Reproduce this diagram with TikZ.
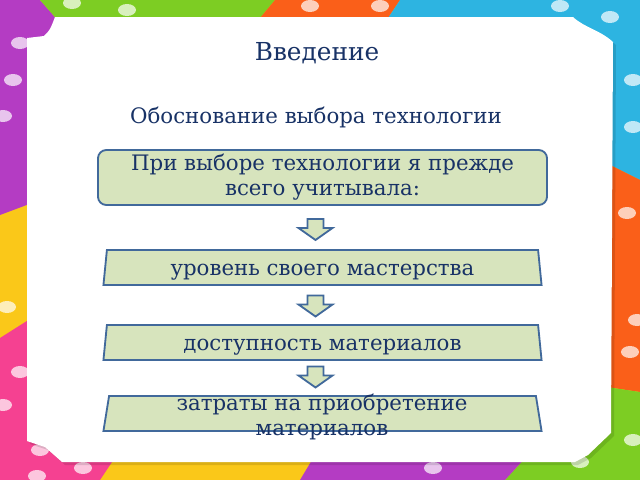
\documentclass[tikz,border=0pt]{standalone}
\usepackage{fontspec}
\setmainfont{DejaVu Serif}
\usetikzlibrary{positioning, shapes.geometric, calc}

\definecolor{navy}{RGB}{24,50,102}
\definecolor{boxfill}{RGB}{215,228,189}
\definecolor{boxline}{RGB}{65,105,155}
\definecolor{rpurple}{RGB}{180,60,195}
\definecolor{rgreen}{RGB}{125,205,35}
\definecolor{rorange}{RGB}{250,95,25}
\definecolor{rblue}{RGB}{45,180,225}
\definecolor{ryellow}{RGB}{250,200,25}
\definecolor{rpink}{RGB}{245,65,145}

\tikzset{
  downarr/.pic={
    \draw[blockarr] (-8,-10.5) -- (8,-10.5) -- (8,-1.5) -- (17,-1.5) -- (0,10.5)
      -- (-17,-1.5) -- (-8,-1.5) -- cycle;
  }
}

\begin{document}
\begin{tikzpicture}[x=0.025cm, y=-0.025cm,
    txt/.style={text=navy, font=\fontsize{15.15}{17.8}\selectfont, inner sep=0pt},
    bigtxt/.style={text=navy, font=\fontsize{17.6}{20}\selectfont, inner sep=0pt},
    roundbox/.style={draw=boxline, line width=1.3pt, fill=boxfill, rounded corners=6pt,
      minimum width=11.225cm, minimum height=1.375cm, align=center},
    trap/.style={trapezium, trapezium angle=77, trapezium stretches body,
      draw=boxline, line width=1.3pt, fill=boxfill, minimum width=10.95cm,
      minimum height=0.875cm, text height=0.375cm, text depth=0pt},
    blockarr/.style={draw=boxline, line width=1.3pt, fill=boxfill, line join=miter},
    dot/.style={fill=white, opacity=0.7}]
  \useasboundingbox (0,0) rectangle (640,480);

  % Ribbons behind the sheet
  \fill[ryellow] (0,0) rectangle (640,480);
  \fill[rpurple] (0,0) -- (40,0) -- (75,40) -- (40,200) -- (0,215) -- cycle;
  \fill[rgreen] (40,0) -- (275,0) -- (250,30) -- (75,40) -- cycle;
  \fill[rorange] (275,0) -- (400,0) -- (380,30) -- (250,30) -- cycle;
  \fill[rblue] (400,0) -- (640,0) -- (640,180) -- (580,150) -- (560,60) -- (380,30) -- cycle;
  \fill[rorange] (640,180) -- (640,392) -- (560,380) -- (580,150) -- cycle;
  \fill[rgreen] (640,392) -- (640,480) -- (505,480) -- (560,420) -- (560,380) -- cycle;
  \fill[rpurple] (505,480) -- (300,480) -- (330,430) -- (560,420) -- cycle;
  \fill[rpink] (0,338) -- (60,300) -- (140,420) -- (100,480) -- (0,480) -- cycle;
  \foreach \px/\py in {72/3, 127/10, 310/6, 380/6, 560/6, 610/17, 633/80, 633/127,
      627/213, 637/320, 630/352, 633/440, 580/462, 433/468, 20/43, 13/80, 3/116,
      7/307, 20/372, 3/405, 40/450, 83/468, 37/476}
    \fill[dot] (\px,\py) ellipse [x radius=9, y radius=6];

  % Sheet with shadow
  \fill[black, opacity=0.12] (30,41) -- (47,39) .. controls (53,33) .. (58,20) -- (576,20)
    .. controls (588,31) and (603,33) .. (616,45) -- (614,436) -- (591,458) -- (578,465)
    -- (65,465) -- (48,450) -- (30,444) -- cycle;
  \fill[white] (27,38) -- (44,36) .. controls (50,30) .. (55,17) -- (573,17)
    .. controls (585,28) and (600,30) .. (613,42) -- (611,433) -- (588,455) -- (575,462)
    -- (62,462) -- (45,447) -- (27,441) -- cycle;

  % Headings
  \node[bigtxt] (title) at (317,53.5) {Введение};
  \node[txt] (subtitle) at (316,117) {Обоснование выбора технологии};

  % Flow of criteria
  \node[roundbox, txt] (choice) at (322.5,177.5) {При выборе технологии я прежде\\всего учитывала:};
  \node[trap, txt] (skill) at (322.5,267.5) {уровень своего мастерства};
  \node[trap, txt] (access) at (322.5,342.5) {доступность материалов};
  \node[trap] (cost) at (322.5,413.5) {};
  \node[txt, align=center] (costtext) at (322,417) {затраты на приобретение\\материалов};

  \pic at ($(choice.south)!0.5!(skill.north)+(-7,2)$) {downarr};
  \pic at ($(skill.south)!0.5!(access.north)+(-7,1)$) {downarr};
  \pic at ($(access.south)!0.5!(cost.north)+(-7,-1)$) {downarr};
\end{tikzpicture}
\end{document}
